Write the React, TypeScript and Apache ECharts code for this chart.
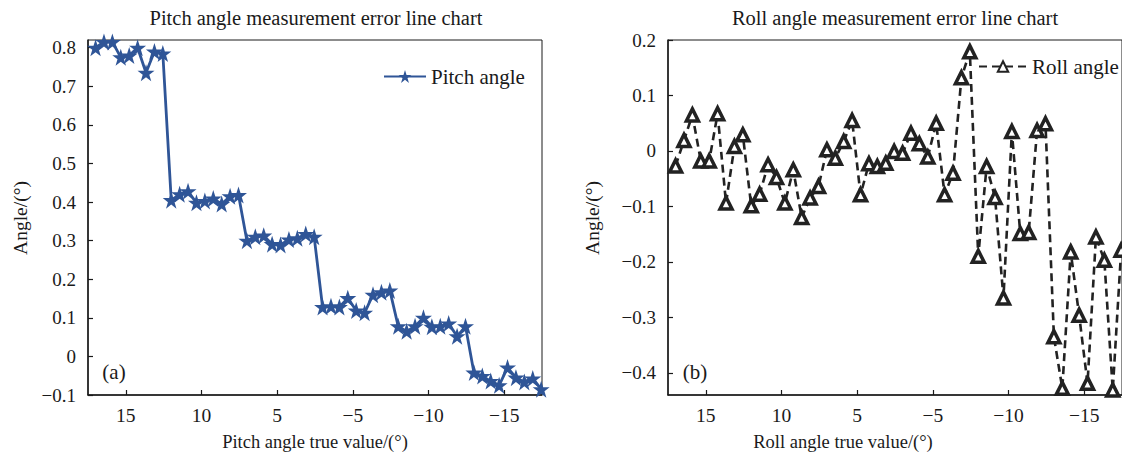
import React, { useEffect, useRef } from "react";
import * as echarts from "echarts";

// ---- data ----
const pitchValues = [
  0.8, 0.815, 0.815, 0.775, 0.78, 0.8, 0.735, 0.79, 0.785,
  0.405, 0.42, 0.428, 0.398, 0.403, 0.409, 0.395, 0.415, 0.418,
  0.3, 0.31, 0.313, 0.291, 0.289, 0.303, 0.306, 0.317, 0.31,
  0.128, 0.13, 0.128, 0.151, 0.119, 0.113, 0.16, 0.166, 0.171,
  0.078, 0.065, 0.078, 0.1, 0.077, 0.078, 0.085, 0.052, 0.078,
  -0.042, -0.051, -0.064, -0.075, -0.029, -0.055, -0.066, -0.057, -0.085,
];
const rollValues = [
  -0.027, 0.019, 0.065, -0.018, -0.018, 0.067, -0.094, 0.008, 0.029,
  -0.099, -0.078, -0.025, -0.048, -0.094, -0.034, -0.12, -0.085, -0.064,
  0.002, -0.013, 0.017, 0.055, -0.079, -0.023, -0.028, -0.022, -0.001,
  -0.004, 0.032, 0.013, -0.011, 0.05, -0.079, -0.04, 0.132, 0.179,
  -0.19, -0.028, -0.084, -0.265, 0.035, -0.149, -0.147, 0.037, 0.049,
  -0.335, -0.428, -0.182, -0.296, -0.419, -0.155, -0.197, -0.431, -0.179,
];
const X_START = 17;
const X_STEP = 5 / 9;
const xTickValues = [15, 10, 5, 0, -5, -10];
const xTickLabels = ["15", "10", "5", "\u22125", "\u221210", "\u221215"];
const pitchYTicks = [-0.1, 0, 0.1, 0.2, 0.3, 0.4, 0.5, 0.6, 0.7, 0.8];
const rollYTicks = [-0.4, -0.3, -0.2, -0.1, 0, 0.1, 0.2];

const FONT = "'Liberation Serif', 'Times New Roman', serif";
const INK = "#1a1a1a";
const BLUE = "#2F5597";
const DARK = "#222222";
const STAR =
  "path://M50,0 L61.8,35.3 L99,35.3 L69,57.3 L80.2,92.7 L50,70.7 L19.8,92.7 L31,57.3 L1,35.3 L38.2,35.3 Z";

const fmtY = (v: number) => {
  const r = Math.round(v * 10) / 10;
  const s = r === 0 ? "0" : String(r);
  return s.replace("-", "\u2212");
};
const fmtX = (v: number) => {
  const i = xTickValues.findIndex((t) => Math.abs(t - v) < 1e-6);
  return i >= 0 ? xTickLabels[i] : "";
};

const xAxisBase = (gridIndex: number) => ({
  gridIndex,
  type: "value" as const,
  inverse: true,
  min: -12.5,
  max: 17.5,
  axisLine: { show: true, onZero: false, lineStyle: { color: INK, width: 1.5 } },
  axisTick: { show: true, inside: true, length: 5, customValues: xTickValues, lineStyle: { color: INK, width: 1.2 } },
  axisLabel: { customValues: xTickValues, formatter: fmtX, fontFamily: FONT, fontSize: 19.5, color: INK, margin: 10 },
  splitLine: { show: false },
});

const yAxisBase = (gridIndex: number, min: number, max: number, ticks: number[]) => ({
  gridIndex,
  type: "value" as const,
  min,
  max,
  axisLine: { show: true, onZero: false, lineStyle: { color: INK, width: 1.5 } },
  axisTick: { show: true, inside: true, length: 5, customValues: ticks, lineStyle: { color: INK, width: 1.2 } },
  axisLabel: { customValues: ticks, formatter: fmtY, fontFamily: FONT, fontSize: 19, color: INK, margin: 12 },
  splitLine: { show: false },
});

const txt = (x: number, y: number, text: string, size: number, extra: any = {}) => ({
  type: "text",
  x,
  y,
  ...extra,
  style: {
    text,
    fontFamily: FONT,
    fontSize: size,
    fill: INK,
    textAlign: "center",
    textVerticalAlign: "middle",
  },
});

export default function App() {
  const ref = useRef<HTMLDivElement>(null);
  useEffect(() => {
    if (!ref.current) return;
    const chart = echarts.init(ref.current, undefined, { renderer: "svg" });
    chart.setOption({
      animation: false,
      backgroundColor: "#fff",
      textStyle: { fontFamily: FONT, color: INK },
      grid: [
        { left: 88, top: 40, width: 454, height: 355, show: true, borderColor: INK, borderWidth: 1, backgroundColor: "transparent" },
        { left: 668, top: 40, width: 454, height: 355, show: true, borderColor: INK, borderWidth: 1, backgroundColor: "transparent" },
      ],
      xAxis: [xAxisBase(0), xAxisBase(1)],
      yAxis: [
        yAxisBase(0, -0.1, 0.82, pitchYTicks),
        yAxisBase(1, -0.44, 0.2, rollYTicks),
      ],
      legend: [
        {
          data: ["Pitch angle"],
          left: 378,
          top: 61,
          itemWidth: 42,
          itemHeight: 16,
          itemGap: 8,
          textStyle: { fontFamily: FONT, fontSize: 21, color: INK },
        },
        {
          data: ["Roll angle"],
          left: 973,
          top: 51,
          itemWidth: 48,
          itemHeight: 13,
          textStyle: { fontFamily: FONT, fontSize: 21, color: INK },
        },
      ],
      graphic: [
        txt(316, 18, "Pitch angle measurement error line chart", 20.5),
        txt(895, 18, "Roll angle measurement error line chart", 20.5),
        txt(315, 442, "Pitch angle true value/(\u00b0)", 18.5),
        txt(843, 442, "Roll angle true value/(\u00b0)", 18.5),
        txt(20, 218, "Angle/(\u00b0)", 19.5, { rotation: Math.PI / 2 }),
        txt(592, 218, "Angle/(\u00b0)", 19.5, { rotation: Math.PI / 2 }),
        txt(114, 372, "(a)", 21),
        txt(695, 372, "(b)", 21),
      ],
      series: [
        {
          type: "line",
          name: "Pitch angle",
          xAxisIndex: 0,
          yAxisIndex: 0,
          data: pitchValues.map((v, i) => [X_START - i * X_STEP, v]),
          symbol: STAR,
          symbolSize: 17,
          color: BLUE,
          itemStyle: { color: BLUE },
          lineStyle: { color: BLUE, width: 2.8 },
          clip: false,
        },
        {
          type: "line",
          name: "Roll angle",
          xAxisIndex: 1,
          yAxisIndex: 1,
          data: rollValues.map((v, i) => [X_START - i * X_STEP, v]),
          symbol: "triangle",
          symbolSize: 12,
          color: DARK,
          itemStyle: { color: "#fff", borderColor: DARK, borderWidth: 3.5 },
          lineStyle: { color: DARK, width: 2.6, type: [8, 5] },
          clip: false,
        },
      ],
    });
    return () => chart.dispose();
  }, []);
  return (
    <div
      ref={ref}
      style={{ position: "absolute", left: 0, top: 0, width: 1122, height: 460, background: "#fff" }}
    />
  );
}
